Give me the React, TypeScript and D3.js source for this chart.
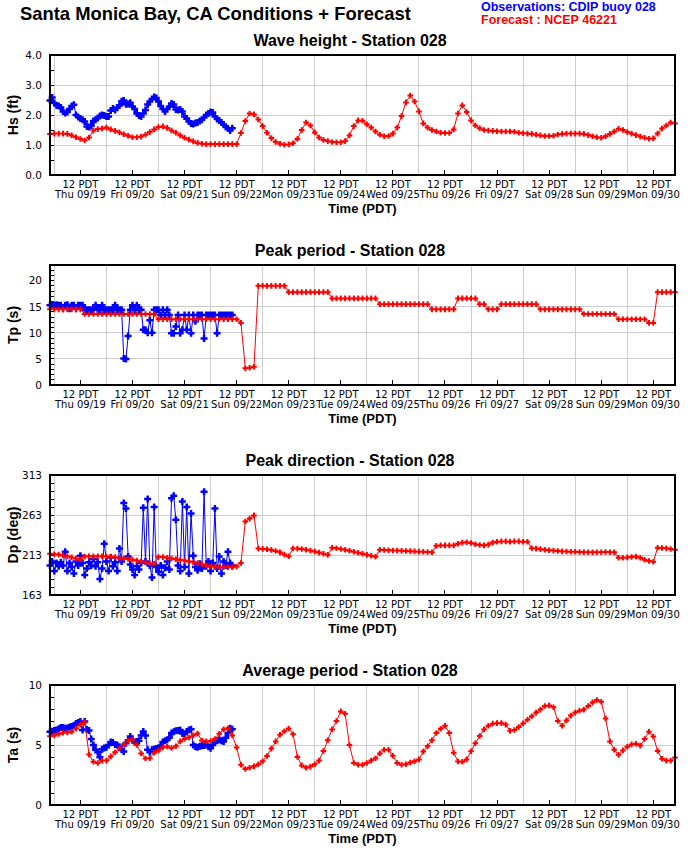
import React from 'react';
import * as d3 from 'd3';

// ---- Data (hours measured from 09/18 22:00 PDT) ----
const DAY_LABELS = ['Thu 09/19', 'Fri 09/20', 'Sat 09/21', 'Sun 09/22', 'Mon 09/23', 'Tue 09/24',
  'Wed 09/25', 'Thu 09/26', 'Fri 09/27', 'Sat 09/28', 'Sun 09/29', 'Mon 09/30'];
const TOTAL_HOURS = 288;
const FCST_STEP = 2; // hours
const OBS_STEP = 1; // hours

const HS_FCST = [1.37, 1.38, 1.38, 1.38, 1.37, 1.32, 1.26, 1.2, 1.15, 1.25, 1.48, 1.53, 1.55, 1.58, 1.52, 1.47, 1.42, 1.36, 1.31, 1.26,
  1.26, 1.28, 1.34, 1.43, 1.52, 1.6, 1.62, 1.57, 1.48, 1.41, 1.32, 1.24, 1.18, 1.12, 1.07, 1.04, 1.03, 1.03, 1.03, 1.03,
  1.03, 1.03, 1.03, 1.03, 1.4, 1.8, 2.05, 2.02, 1.85, 1.63, 1.41, 1.23, 1.1, 1.04, 1.01, 1.02, 1.06, 1.2, 1.5, 1.75,
  1.65, 1.42, 1.25, 1.17, 1.13, 1.1, 1.09, 1.09, 1.13, 1.32, 1.63, 1.82, 1.81, 1.69, 1.58, 1.45, 1.34, 1.29, 1.3, 1.38,
  1.58, 1.97, 2.42, 2.65, 2.45, 2.12, 1.72, 1.58, 1.5, 1.45, 1.41, 1.4, 1.4, 1.52, 2.05, 2.32, 2.1, 1.82, 1.65, 1.56,
  1.5, 1.48, 1.47, 1.46, 1.45, 1.45, 1.45, 1.44, 1.41, 1.39, 1.38, 1.37, 1.34, 1.32, 1.3, 1.3, 1.31, 1.35, 1.37, 1.38,
  1.38, 1.38, 1.38, 1.37, 1.33, 1.29, 1.26, 1.24, 1.29, 1.37, 1.45, 1.54, 1.5, 1.43, 1.38, 1.33, 1.28, 1.24, 1.21, 1.22,
  1.38, 1.55, 1.65, 1.75, 1.72];
const HS_OBS = [2.48, 2.58, 2.4, 2.32, 2.3, 2.25, 2.12, 2.07, 2.1, 2.2, 2.3, 2.34, 2.0, 1.93, 1.88, 1.84, 1.78, 1.62, 1.6, 1.64,
  1.8, 1.84, 1.9, 1.97, 2.0, 1.98, 1.95, 1.95, 2.15, 2.22, 2.17, 2.25, 2.32, 2.46, 2.48, 2.36, 2.37, 2.41, 2.28, 2.2,
  2.05, 1.98, 1.95, 2.05, 2.17, 2.35, 2.45, 2.53, 2.6, 2.57, 2.45, 2.3, 2.2, 2.12, 2.2, 2.28, 2.38, 2.35, 2.18, 2.17,
  2.18, 2.12, 1.95, 1.88, 1.78, 1.72, 1.7, 1.73, 1.75, 1.8, 1.84, 1.92, 2.0, 2.05, 2.1, 2.08, 1.95, 1.87, 1.82, 1.75,
  1.68, 1.6, 1.55, 1.48, 1.56];

const TP_FCST = [14.5, 14.5, 14.5, 14.5, 14.5, 14.5, 14.5, 14.5, 13.6, 13.6, 13.6, 13.6, 13.6, 13.6, 13.6, 13.6, 13.6, 13.6, 13.6, 13.6,
  13.6, 13.6, 13.6, 13.6, 13.6, 12.6, 12.6, 12.6, 12.6, 12.6, 12.6, 12.6, 12.6, 12.6, 12.6, 12.6, 12.6, 12.6, 12.6, 12.6,
  12.6, 12.6, 12.6, 12.6, 11.9, 3.2, 3.3, 3.5, 19.0, 19.0, 19.0, 19.0, 19.0, 19.0, 19.0, 17.8, 17.8, 17.8, 17.8, 17.8,
  17.8, 17.8, 17.8, 17.8, 17.8, 16.6, 16.6, 16.6, 16.6, 16.6, 16.6, 16.6, 16.6, 16.6, 16.6, 16.6, 15.5, 15.5, 15.5, 15.5,
  15.5, 15.5, 15.5, 15.5, 15.5, 15.5, 15.5, 15.5, 14.5, 14.5, 14.5, 14.5, 14.5, 14.5, 16.6, 16.6, 16.6, 16.6, 16.6, 15.5,
  15.5, 14.5, 14.5, 14.5, 15.5, 15.5, 15.5, 15.5, 15.5, 15.5, 15.5, 15.5, 15.5, 14.5, 14.5, 14.5, 14.5, 14.5, 14.5, 14.5,
  14.5, 14.5, 14.5, 13.6, 13.6, 13.6, 13.6, 13.6, 13.6, 13.6, 13.6, 12.6, 12.6, 12.6, 12.6, 12.6, 12.6, 12.6, 11.9, 11.9,
  17.8, 17.8, 17.8, 17.8, 17.8];
const TP_OBS = [15.3, 15.4, 15.3, 15.4, 15.3, 15.3, 14.6, 15.3, 15.4, 14.6, 15.3, 15.3, 14.6, 15.3, 15.3, 15.3, 14.4, 14.4, 14.4, 14.4,
  14.4, 15.3, 14.4, 14.4, 15.3, 14.4, 14.4, 14.4, 14.4, 14.4, 15.3, 14.4, 14.4, 14.4, 5.1, 5.0, 9.4, 14.4, 15.3, 14.4,
  15.3, 14.4, 14.4, 10.6, 10.6, 10.0, 12.4, 10.0, 14.4, 14.4, 14.4, 13.4, 14.4, 13.4, 14.4, 13.4, 9.9, 9.9, 11.2, 13.4,
  9.9, 10.6, 13.4, 10.6, 13.4, 9.9, 13.4, 12.2, 13.4, 13.4, 13.4, 8.9, 13.4, 13.4, 13.4, 13.4, 13.4, 9.9, 13.4, 13.4,
  13.4, 13.4, 13.4, 13.4, 13.4];

const DP_FCST = [214.5, 214, 213.5, 212.5, 211.5, 210, 208.5, 207.5, 211, 211.3, 211.3, 211.3, 211.3, 211.2, 211, 210.3, 209.3, 208.6, 208, 207.2,
  206, 204.8, 203.6, 202.7, 202, 210.4, 210.4, 209.5, 208.6, 207.7, 206.8, 206, 205, 204.1, 202.8, 201.4, 200, 199, 198.2, 197.8,
  197.8, 197.8, 197.8, 198.5, 203, 254.8, 258.5, 262.5, 221, 220.6, 220.2, 219.4, 218, 216.3, 213.5, 211.5, 221.2, 221, 220.5, 219.5,
  218.5, 217.3, 216, 214.5, 213.2, 222, 221.5, 220.5, 219.5, 218.3, 217, 215.8, 214.5, 213.2, 212, 210.8, 219.5, 219.3, 219, 218.7,
  218.5, 218.2, 218, 217.8, 217.5, 217.2, 217, 216.8, 216.5, 224.5, 225, 225, 225, 225, 227, 228.5, 229, 228, 226.5, 225.5,
  225, 226, 228.5, 229.5, 230, 230, 229.5, 230, 230, 229.5, 229.5, 221.5, 221, 220.3, 219.5, 219, 218.5, 218, 217.5, 217.3,
  217, 217, 216.8, 216.5, 216.5, 216.3, 216.5, 216.5, 216.8, 216.5, 216.3, 209.5, 209.5, 210, 210.5, 211, 209.5, 207, 205.5, 204.5,
  222, 221.8, 221.3, 220.5, 219.5];
const DP_OBS = [200, 205, 193, 203, 199, 204, 200, 217, 193, 203, 198, 190, 205, 200, 212, 203, 188, 196, 204, 200,
  208, 199, 204, 183, 196, 227, 205, 193, 210, 199, 204, 193, 221, 205, 278, 271, 211, 201, 195, 188,
  199, 195, 203, 272, 205, 283, 200, 185, 273, 198, 192, 200, 188, 197, 205, 195, 284, 287, 257, 200,
  193, 280, 198, 273, 190, 265, 212, 198, 194, 202, 196, 292, 199, 205, 193, 203, 271, 196, 211, 190,
  205, 200, 217, 203, 200];

const TA_FCST = [5.73, 5.8, 5.92, 6.03, 6.05, 6.1, 6.38, 6.7, 6.9, 4.2, 3.6, 3.5, 3.7, 3.7, 4.05, 4.4, 4.7, 5.05, 5.38, 5.45,
  5.0, 4.3, 3.88, 3.9, 4.35, 4.55, 4.8, 4.88, 4.75, 4.9, 5.3, 5.5, 5.63, 5.8, 5.95, 5.37, 5.3, 5.33, 5.5, 5.93,
  6.3, 6.4, 5.8, 4.8, 3.35, 3.0, 3.1, 3.22, 3.4, 3.65, 4.08, 4.7, 5.3, 5.85, 6.15, 6.38, 5.9, 4.0, 3.3, 3.1,
  3.2, 3.4, 3.7, 4.5, 5.4, 6.3, 7.0, 7.8, 7.6, 5.0, 3.5, 3.35, 3.35, 3.5, 3.7, 3.9, 4.3, 4.6, 4.6, 4.1,
  3.5, 3.35, 3.4, 3.54, 3.65, 3.8, 4.45, 4.9, 5.4, 6.0, 6.35, 6.6, 5.99, 4.35, 3.62, 3.6, 3.8, 4.48, 5.15, 5.75,
  6.3, 6.6, 6.78, 6.82, 6.82, 6.7, 6.18, 6.25, 6.5, 6.8, 7.1, 7.4, 7.7, 7.95, 8.25, 8.3, 8.15, 7.0, 6.6, 7.05,
  7.45, 7.7, 7.85, 7.95, 8.25, 8.55, 8.75, 8.6, 7.2, 5.3, 4.6, 4.18, 4.55, 4.85, 5.05, 5.1, 4.95, 5.5, 6.1, 5.71,
  4.5, 3.85, 3.7, 3.7, 3.95];
const TA_OBS = [6.1, 6.15, 6.2, 6.25, 6.35, 6.45, 6.45, 6.4, 6.42, 6.5, 6.54, 6.65, 6.8, 6.88, 6.96, 6.26, 6.96, 6.3, 6.2, 5.5,
  5.0, 4.6, 4.4, 3.98, 4.65, 4.75, 4.82, 5.0, 5.25, 5.2, 5.05, 5.0, 4.85, 4.6, 4.46, 5.15, 5.4, 5.7, 5.4, 5.25,
  5.3, 5.35, 5.8, 6.12, 5.8, 4.6, 4.4, 4.6, 4.65, 4.7, 4.73, 4.95, 5.25, 5.35, 5.43, 5.6, 6.0, 6.1, 6.18, 6.2,
  6.26, 5.95, 5.9, 6.12, 6.25, 6.32, 5.0, 4.85, 4.82, 4.9, 4.93, 4.95, 5.0, 4.85, 4.73, 5.0, 5.29, 5.35, 5.43, 5.35,
  5.29, 5.6, 6.0, 6.4, 6.32];

const HS_TICKS = ['0.0', '1.0', '2.0', '3.0', '4.0'];
const TP_TICKS = ['0', '5', '10', '15', '20'];
const DP_TICKS = ['163', '213', '263', '313'];
const TA_TICKS = ['0', '5', '10'];

// ---- Layout ----
const X0 = 50;
const X1 = 675;
const PANEL_H = 120;
const RED = '#ff0000';
const BLUE = '#0000ff';
const SANS = '"Liberation Sans", Arial, sans-serif';
const TICKFONT = '"DejaVu Sans", Verdana, sans-serif';

const x = d3.scaleLinear().domain([0, TOTAL_HOURS]).range([X0, X1]);

type PanelProps = {
  top: number;
  title: string;
  ylabel: string;
  domain: [number, number];
  ticks: string[];
  minorStep: number;
  fcst: number[];
  obs: number[];
};

function crosses(pts: [number, number][], s: number) {
  return pts.map(([px, py]) => `M${px - s},${py}h${2 * s}M${px},${py - s}v${2 * s}`).join('');
}

function Panel({ top, title, ylabel, domain, ticks, minorStep, fcst, obs }: PanelProps) {
  const bottom = top + PANEL_H;
  const y = d3.scaleLinear().domain(domain).range([bottom, top]);
  const line = d3.line<[number, number]>().x(d => d[0]).y(d => d[1]);
  const fPts: [number, number][] = fcst.map((v, i) => [x(i * FCST_STEP), y(v)]);
  const oPts: [number, number][] = obs.map((v, i) => [x(i * OBS_STEP), y(v)]);
  const minors = d3.range(domain[0], domain[1] + 1e-6, minorStep);
  const midnights = d3.range(2, TOTAL_HOURS, 24);
  const noons = d3.range(14, TOTAL_HOURS, 24);
  const cy = (top + bottom) / 2;
  return (
    <g>
      <text x={350} y={top - 9} textAnchor="middle" fontFamily={SANS} fontWeight="bold" fontSize={16}>{title}</text>
      {/* grid */}
      <g stroke="#cccccc" strokeWidth={1} shapeRendering="crispEdges">
        {midnights.map(h => <line key={'v' + h} x1={x(h)} x2={x(h)} y1={top} y2={bottom} />)}
        {ticks.slice(1, -1).map(t => <line key={'h' + t} x1={X0} x2={X1} y1={y(+t)} y2={y(+t)} />)}
      </g>
      {/* minor ticks */}
      <g stroke="#000" strokeWidth={1} shapeRendering="crispEdges">
        {minors.map(v => <line key={'m' + v} x1={X0} x2={X0 + 4} y1={y(v)} y2={y(v)} />)}
        {noons.map(h => <line key={'n' + h} x1={x(h)} x2={x(h)} y1={bottom} y2={bottom - 5} />)}
      </g>
      {/* data */}
      <path d={line(oPts) || ''} fill="none" stroke={BLUE} strokeWidth={1} />
      <path d={crosses(oPts, 3.5)} fill="none" stroke={BLUE} strokeWidth={2.5} />
      <path d={line(fPts) || ''} fill="none" stroke={RED} strokeWidth={1} />
      <path d={crosses(fPts, 2.8)} fill="none" stroke={RED} strokeWidth={2} />
      {/* frame */}
      <rect x={X0} y={top} width={X1 - X0} height={PANEL_H} fill="none" stroke="#000" strokeWidth={1.2} shapeRendering="crispEdges" />
      {/* y tick labels */}
      {ticks.map(t => (
        <text key={'yl' + t} x={42} y={y(+t)} dy="0.36em" textAnchor="end" fontFamily={TICKFONT} fontSize={10.5}>{t}</text>
      ))}
      {/* x tick labels */}
      {noons.map((h, i) => (
        <g key={'xl' + h}>
          <text x={x(h)} y={bottom + 13} textAnchor="middle" fontFamily={TICKFONT} fontSize={10}>12 PDT</text>
          <text x={x(h)} y={bottom + 23} textAnchor="middle" fontFamily={TICKFONT} fontSize={10}>{DAY_LABELS[i]}</text>
        </g>
      ))}
      <text x={(X0 + X1) / 2} y={bottom + 38} textAnchor="middle" fontFamily={SANS} fontWeight="bold" fontSize={13}>Time (PDT)</text>
      <text transform={`translate(18,${cy}) rotate(-90)`} textAnchor="middle" fontFamily={SANS} fontWeight="bold" fontSize={14}>{ylabel}</text>
    </g>
  );
}

export default function App() {
  return (
    <svg width={700} height={865} style={{ position: 'absolute', left: 0, top: 0, background: '#fff' }}>
      <rect width={700} height={865} fill="#fff" />
      <text x={20} y={20} fontFamily={SANS} fontWeight="bold" fontSize={18.4}>Santa Monica Bay, CA Conditions + Forecast</text>
      <text x={481} y={11} fontFamily={SANS} fontWeight="bold" fontSize={12.5} fill={BLUE}>Observations: CDIP buoy 028</text>
      <text x={481} y={23.5} fontFamily={SANS} fontWeight="bold" fontSize={12.5} fill={RED}>Forecast : NCEP 46221</text>
      <Panel top={55} title="Wave height - Station 028" ylabel="Hs (ft)" domain={[0, 4]} ticks={HS_TICKS} minorStep={0.5} fcst={HS_FCST} obs={HS_OBS} />
      <Panel top={265} title="Peak period - Station 028" ylabel="Tp (s)" domain={[0, 23]} ticks={TP_TICKS} minorStep={1} fcst={TP_FCST} obs={TP_OBS} />
      <Panel top={475} title="Peak direction - Station 028" ylabel="Dp (deg)" domain={[163, 313]} ticks={DP_TICKS} minorStep={10} fcst={DP_FCST} obs={DP_OBS} />
      <Panel top={685} title="Average period - Station 028" ylabel="Ta (s)" domain={[0, 10]} ticks={TA_TICKS} minorStep={1} fcst={TA_FCST} obs={TA_OBS} />
    </svg>
  );
}
